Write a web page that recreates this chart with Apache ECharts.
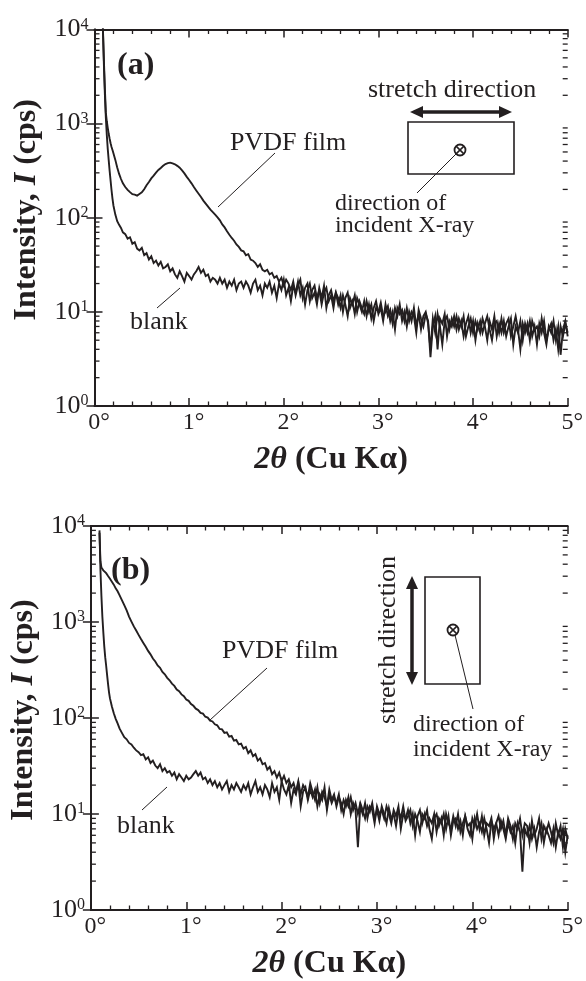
<!DOCTYPE html>
<html><head><meta charset="utf-8">
<script src="https://cdn.jsdelivr.net/npm/echarts@6/dist/echarts.min.js"></script>
<style>html,body{margin:0;padding:0;background:#fff}#c{width:586px;height:981px}</style>
</head><body><div id="c"></div>
<script>
// ---------- data (2θ in degrees, intensity in cps) ----------
const angles = [0.05,0.06,0.07,0.08,0.09,0.10,0.11,0.12,0.13,0.14,0.15,0.16,0.17,0.18,0.19,0.20,0.22,0.24,0.26,0.28,0.30,
0.325,0.35,0.375,0.40,0.425,0.45,0.475,0.50,0.525,0.55,
0.575,0.60,0.625,0.65,0.675,0.70,0.725,0.75,0.775,0.80,
0.825,0.85,0.875,0.90,0.925,0.95,0.975,1.00,1.025,1.05,
1.075,1.10,1.125,1.15,1.175,1.20,1.225,1.25,1.275,1.30,
1.325,1.35,1.375,1.40,1.425,1.45,1.475,1.50,1.525,1.55,
1.575,1.60,1.625,1.65,1.675,1.70,1.725,1.75,1.775,1.80,
1.825,1.85,1.875,1.90,1.925,1.95,1.975,2.00,2.025,2.05,
2.075,2.10,2.125,2.15,2.175,2.20,2.225,2.25,2.275,2.30,
2.325,2.35,2.375,2.40,2.425,2.45,2.475,2.50,2.525,2.55,
2.575,2.60,2.625,2.65,2.675,2.70,2.725,2.75,2.775,2.80,
2.825,2.85,2.875,2.90,2.925,2.95,2.975,3.00,3.025,3.05,
3.075,3.10,3.125,3.15,3.175,3.20,3.225,3.25,3.275,3.30,
3.325,3.35,3.375,3.40,3.425,3.45,3.475,3.50,3.525,3.55,
3.575,3.60,3.625,3.65,3.675,3.70,3.725,3.75,3.775,3.80,
3.825,3.85,3.875,3.90,3.925,3.95,3.975,4.00,4.025,4.05,
4.075,4.10,4.125,4.15,4.175,4.20,4.225,4.25,4.275,4.30,
4.325,4.35,4.375,4.40,4.425,4.45,4.475,4.50,4.525,4.55,
4.575,4.60,4.625,4.65,4.675,4.70,4.725,4.75,4.775,4.80,
4.825,4.85,4.875,4.90,4.925,4.95,4.975,5.00];

// panel (a): stretch direction horizontal
const aBlank = [null,null,null,20000,9000,4000,2000,1150,760,540,410,315,248,196,160,135,108,92,84,78,70,
67,60,62,53,55,47,45,48,40,42,
36,39,33,35,31,34,29,30,32,27,
29,25,23,27,24,21,26,24,22,25,
27,30,26,28,24,25,21,23,22,20,
23,20,22,18,21,19,22,17,20,21,
18,21,19,16,20,22,17,19,15,20,
18,21,16,19,14,20,17,22,15,18,
13,19,16,21,15,18,12,17,20,14,
16,12,18,14,19,11,15,17,13,16,
12,15,10,14,16,11,13,9.5,14,12,
10,13,9,12,8.5,11,13,9.5,11,8,
12,9,10.5,7.5,11,9,12,8,10,7,
10,8,11,7,9.5,6.5,9,10,7.5,4,
8.5,6,9.5,7,4.5,8,9,6.5,8.5,7,
9,6.5,8,5.5,7.5,9,6,8,5,7.5,
6,8.5,7,5,8,6.5,9,5.5,7.5,6,
8,5.5,7,8.5,4.5,7,6,8,5,7.5,
6,8,5.5,7,4.5,7.5,6,8,5,6.5,
7.5,5,6.5,4,7,5.5,7.5,6];

const aPVDF = [null,null,null,20000,9500,4500,2300,1300,1060,900,780,690,620,565,525,485,412,342,292,258,232,
212,198,187,178,176,172,179,186,201,222,
240,262,280,302,322,338,356,372,380,385,
378,370,356,340,318,296,272,252,232,212,
195,180,166,152,141,131,122,115,108,101,
94,85,79,72,66,61,57,52,49,45,
44,40,41,36,35,33,30,32,28,27,
28,25,26,23,24,21,23,19,22,20,
17,21,15,19,22,14,18,20,13,17,
19,14,17,12,16,18,13,15,11,16,
14,11,15,12,9,14,12,15,10,13,
11,9.5,13,10,12,8,11,10,12.5,9,
10,11.5,8,10,6.5,11,9.5,10.5,8,11,
8,10,9,6,10.5,8.5,7,9.5,8,3.3,
7,9,4,8.5,7.5,9.5,5.5,8,7,9,
6.5,8.5,7,9,5.5,7,8.5,6,8,6.5,
8,6,7.5,9,6.5,5,7.5,8,6,8.5,
6,7.5,8.5,5.5,7,9,6.5,4,7.5,6,
7.5,5,8,6.5,7,5.5,8.5,6,4.5,7,
6,8,5,7,3.5,6.5,8,5.5];

// panel (b): stretch direction vertical
const bBlank = [null,null,null,null,9000,3500,1900,1150,790,560,430,350,280,225,185,160,132,112,98,88,78,
70,63,60,55,53,49,46,44,41,42,
37,39,34,36,32,30,33,28,30,27,
28,25,27,23,26,24,22,25,23,24,
26,28,25,27,23,24,21,23,20,22,
19,21,18,20,22,17,20,18,21,19,
17,20,18,21,16,19,22,17,19,16,
20,18,15,21,17,19,14,22,18,16,
20,13,18,16,21,12,17,19,14,18,
15,18,12,16,14,19,11,16,13,15,
13,16,11,14,12,15,10,13,11,4.5,
12,10,13,9,12,11,8,12,10,11,
9,12,10,8,11,9.5,12,7,10,9,
11,8,10,6,9.5,11,8,10,7.5,9,
8,10,6.5,9,8,10,7,9.5,6,8.5,
9,7,8.5,6,9.5,7.5,8,5.5,9,7,
8,6.5,9,7,5,8.5,7,8,6,8.5,
7,5.5,8,6.5,7.5,5,8,6.5,2.5,7,
6,7.5,5.5,7,4.5,6.5,8,5,7,6,
5,7,4.5,6.5,5.5,7,4,6];

const bPVDF = [null,null,null,null,8500,4300,3700,3550,3450,3380,3300,3230,3120,3010,2900,2820,2630,2450,2240,2090,1905,
1690,1500,1320,1140,1010,900,815,735,665,605,
552,500,460,416,388,352,333,302,285,262,
247,228,216,198,190,176,169,156,151,140,
134,125,121,113,111,103,101,94,92,86,
84,77,76,70,71,64,65,58,59,53,
54,48,50,43,46,40,42,36,38,33,
34,29,31,26,28,24,27,22,25,21,
23,19,21,17,22,16,20,18,15,21,
17,14,19,13,17,15,12,18,14,16,
12,15,13,10,14,12,15,11,13,10,
13,11,9,12,10.5,13,9,11,8.5,12,
10,8,11.5,9,10,7.5,11,9,12,8.5,
9.5,11,7.5,10,8.5,6.5,10,9,11,7,
5.5,9,10,7.5,9,6,10,8,7,9.5,
7.5,10,6.5,8,9.5,7,6,9,7.5,10,
7,9.5,6,8,7.5,9,5.5,8,9.5,7,
8.5,6,9,7.5,5.5,8,7,9,6,8,
7.5,5,8.5,6,7,9,5.5,7.5,6.5,8,
6.5,5,8,6,7.5,4.5,7,5.5];

// axis tick values
const xMajorTicks = [0, 1, 2, 3, 4, 5];
const yDecades = [1, 10, 100, 1000, 10000];
const yMinorTicks = [2,3,4,5,6,7,8,9,20,30,40,50,60,70,80,90,200,300,400,500,600,700,800,900,2000,3000,4000,5000,6000,7000,8000,9000];

// ---------- chart ----------
const INK = '#231f20';
const SERIF = '"Liberation Serif", "Times New Roman", serif';
const pairs = (ys) => angles.map((x, i) => [x, ys[i]]).filter(p => p[1] != null);

const grids = [
  { left: 94.5, right: 12.5, top: 29.5, height: 376.5 },
  { left: 84, right: 13, top: 526, height: 385 }
];

const xAxes = [], yAxes = [], series = [];
const yNameGap = [52, 47];
const panels = [[aBlank, aPVDF], [bBlank, bPVDF]];

grids.forEach((g, gi) => {
  const baseX = {
    gridIndex: gi, type: 'value', min: xMajorTicks[0], max: xMajorTicks[xMajorTicks.length - 1], interval: 1,
    axisLine: { show: true, onZero: false, lineStyle: { color: INK, width: 2 } },
    axisTick: { show: true, inside: true, length: 8, lineStyle: { color: INK, width: 1.5 } },
    minorTick: { show: true, splitNumber: 5, length: 4.5, lineStyle: { color: INK, width: 1.3 } },
    splitLine: { show: false }
  };
  xAxes.push(Object.assign({}, baseX, {
    position: 'bottom',
    axisLabel: { formatter: v => v + '°', fontFamily: SERIF, fontSize: 24, color: INK, margin: 5, padding: [0, 0, 0, 9] },
    name: '{bi|2θ}{b| (Cu Kα)}', nameLocation: 'middle', nameGap: 38,
    nameTextStyle: { rich: {
      bi: { fontFamily: SERIF, fontSize: 32, fontWeight: 'bold', fontStyle: 'italic', color: INK },
      b: { fontFamily: SERIF, fontSize: 32, fontWeight: 'bold', color: INK }
    } }
  }));
  xAxes.push(Object.assign({}, baseX, { position: 'top', axisLabel: { show: false } }));

  const baseY = {
    gridIndex: gi, type: 'log', logBase: 10, min: yDecades[0], max: yDecades[yDecades.length - 1],
    axisLine: { show: true, lineStyle: { color: INK, width: 2 } },
    axisTick: { show: true, inside: true, length: 8, lineStyle: { color: INK, width: 1.5 } },
    splitLine: { show: false }
  };
  yAxes.push(Object.assign({}, baseY, {
    position: 'left',
    axisLabel: {
      margin: 6,
      formatter: v => '{b|10}{s|' + Math.round(Math.log10(v)) + '}',
      rich: {
        b: { fontFamily: SERIF, fontSize: 26, color: INK },
        s: { fontFamily: SERIF, fontSize: 16, color: INK, verticalAlign: 'top' }
      }
    },
    name: '{b|Intensity, }{bi|I}{b| (cps)}', nameLocation: 'middle', nameRotate: 90, nameGap: yNameGap[gi],
    nameTextStyle: { padding: [0, 0, 0, 16], rich: {
      b: { fontFamily: SERIF, fontSize: 32, fontWeight: 'bold', color: INK },
      bi: { fontFamily: SERIF, fontSize: 32, fontWeight: 'bold', fontStyle: 'italic', color: INK }
    } }
  }));
  yAxes.push(Object.assign({}, baseY, { position: 'right', axisLabel: { show: false } }));

  const xi = gi * 2, yi = gi * 2;
  panels[gi].forEach((ys) => {
    series.push({
      type: 'line', xAxisIndex: xi, yAxisIndex: yi, data: pairs(ys),
      showSymbol: false, symbol: 'none', clip: true, silent: true,
      lineStyle: { color: INK, width: 1.9, join: 'miter' }, sampling: null
    });
  });
  // minor log ticks on left and right axes
  series.push({
    type: 'custom', xAxisIndex: xi, yAxisIndex: yi, silent: true, clip: false,
    data: yMinorTicks.map(v => [xMajorTicks[0], v]),
    renderItem: (params, api) => {
      const v = api.value(1);
      const pl = api.coord([xMajorTicks[0], v]);
      const pr = api.coord([xMajorTicks[xMajorTicks.length - 1], v]);
      return { type: 'group', children: [
        { type: 'line', shape: { x1: pl[0], y1: pl[1], x2: pl[0] + 5, y2: pl[1] }, style: { stroke: INK, lineWidth: 1.3 } },
        { type: 'line', shape: { x1: pr[0] - 5, y1: pr[1], x2: pr[0], y2: pr[1] }, style: { stroke: INK, lineWidth: 1.3 } }
      ] };
    }
  });
});

// ---------- annotations ----------
function txt(x, y, text, size, opts) {
  return Object.assign({ type: 'text', x: x, y: y, silent: true, style: Object.assign({
    text: text, fontFamily: 'Liberation Serif', fontSize: size, fill: INK,
    align: 'left', verticalAlign: 'middle'
  }, (opts && opts.style) || {}) }, (opts && opts.el) || {});
}
function ln(x1, y1, x2, y2, w) {
  return { type: 'line', silent: true, shape: { x1, y1, x2, y2 }, style: { stroke: INK, lineWidth: w || 1 } };
}
function poly(points) { return { type: 'polygon', silent: true, shape: { points }, style: { fill: INK } }; }
function otimes(cx, cy) {
  const r = 5.5, d = r * 0.7071;
  return [
    { type: 'circle', silent: true, shape: { cx, cy, r }, style: { fill: '#fff', stroke: INK, lineWidth: 1.8 } },
    ln(cx - d, cy - d, cx + d, cy + d, 1.5), ln(cx - d, cy + d, cx + d, cy - d, 1.5)
  ];
}
function rect(x, y, w, h) {
  return { type: 'rect', silent: true, shape: { x, y, width: w, height: h }, style: { fill: 'none', stroke: INK, lineWidth: 1.6 } };
}

const graphic = [
  // panel (a)
  txt(117, 66, '(a)', 32, { style: { fontWeight: 'bold' } }),
  txt(230, 143, 'PVDF film', 26),
  ln(275, 153, 218, 207),
  txt(368, 90, 'stretch direction', 26),
  ln(420, 112, 502, 112, 3.5),
  poly([[410, 112], [423, 106], [423, 118]]),
  poly([[512, 112], [499, 106], [499, 118]]),
  rect(408, 122, 106, 52),
  ln(456, 154, 417, 193),
  ...otimes(460, 150),
  txt(335, 204, 'direction of', 24),
  txt(335, 226, 'incident X-ray', 24),
  txt(130, 322, 'blank', 26),
  ln(180, 288, 157, 308),
  // panel (b)
  txt(111, 571, '(b)', 32, { style: { fontWeight: 'bold' } }),
  txt(222, 651, 'PVDF film', 26),
  ln(267, 668, 210, 720),
  txt(388, 640, 'stretch direction', 26, { el: { rotation: Math.PI / 2 }, style: { align: 'center' } }),
  ln(412, 587, 412, 674, 3.5),
  poly([[412, 576], [406, 589], [418, 589]]),
  poly([[412, 685], [406, 672], [418, 672]]),
  rect(425, 577, 55, 107),
  ln(455, 635, 473, 709),
  ...otimes(453, 630),
  txt(413, 725, 'direction of', 24),
  txt(413, 750, 'incident X-ray', 24),
  txt(117, 826, 'blank', 26),
  ln(167, 787, 142, 810)
];

const chart = echarts.init(document.getElementById('c'), null, { renderer: 'canvas' });
chart.setOption({
  backgroundColor: '#fff',
  animation: false,
  grid: grids,
  xAxis: xAxes,
  yAxis: yAxes,
  series: series,
  graphic: graphic
});
</script>
</body></html>
